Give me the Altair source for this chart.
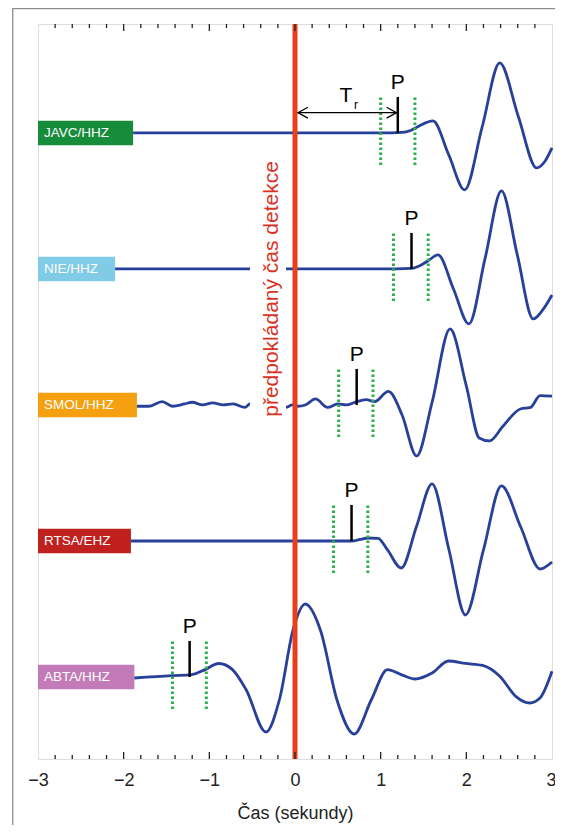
import altair as alt
import pandas as pd

# ---------------- data ----------------
STATIONS = ["JAVC/HHZ", "NIE/HHZ", "SMOL/HHZ", "RTSA/EHZ", "ABTA/HHZ"]
OFFSETS = [4, 3, 2, 1, 0]
BOX_COLORS = ["#178C3B", "#80CBE6", "#F4A00F", "#C0211E", "#C27BB8"]
BOX_END = [-1.89, -2.10, -1.845, -1.915, -1.875]
P_TIMES = [1.20, 1.36, 0.72, 0.66, -1.23]
WIN_LEFT = [1.00, 1.15, 0.51, 0.45, -1.43]
WIN_RIGHT = [1.40, 1.555, 0.91, 0.85, -1.035]

JAVC_T = [-1.89, 0.5, 1.0, 1.25, 1.35, 1.45, 1.61, 1.795, 1.98, 2.185, 2.39, 2.605, 2.82, 2.92, 3.0]
JAVC_A = [0, 0, 0, 0.5, 2.5, 7, 12, -22, -57, 6, 70, 17, -35, -28, -15]

NIE_T = [-2.10, 0.5, 1.0, 1.36, 1.45, 1.55, 1.67, 1.85, 2.03, 2.22, 2.41, 2.595, 2.78, 2.90, 3.0]
NIE_A = [0, 0, 0, 0.5, 3, 8, 14, -20, -55, 11, 78, 14, -50, -40, -26]

SMOL_T = [-1.845, -1.71, -1.55, -1.43, -1.29, -1.20, -1.08, -0.96, -0.84, -0.72, -0.585, -0.525,
          -0.40, -0.25, -0.11, -0.03, 0.03, 0.12, 0.24, 0.38, 0.50, 0.60, 0.70, 0.83, 0.93, 1.09,
          1.25, 1.42, 1.60, 1.81, 2.0, 2.15, 2.27, 2.43, 2.63, 2.75, 2.86, 3.0]
SMOL_A = [-1.3, -1.3, 3.4, -1.3, 1, 2.7, 0, 2, 0, 1, -2.4, 1,
          -1, 1, -2.4, 0, -1.3, 0, 6, -2.4, 1, 0, 2.7, 5.4, 3.4, 13.5,
          -10, -51, 2.7, 76, 19, -33, -36, -21, -4, -2.4, 9.4, 8.8]

RTSA_T = [-1.915, 0.0, 0.66, 0.76, 0.85, 0.97, 1.08, 1.24, 1.42, 1.60, 1.795, 1.99, 2.20, 2.41, 2.635, 2.86, 3.0]
RTSA_A = [0, 0, 0, 1.5, 3, 2.7, -9, -27, 15, 57, -8, -74, -9, 55, 14, -28, -21]

ABTA_T = [-1.875, -1.44, -1.205, -1.05, -0.89, -0.73, -0.57, -0.34, -0.18, -0.02, 0.12, 0.30, 0.49,
          0.69, 0.89, 1.08, 1.24, 1.40, 1.60, 1.79, 1.99, 2.19, 2.39, 2.58, 2.74, 2.86, 3.0]
ABTA_A = [-1, 1.4, 2.4, 7.4, 13.5, 7.4, -12.8, -55, -22, 48, 73, 46, -23,
          -57, -23, 7.4, 2.4, -2, 4, 16, 13.5, 11.5, 0.7, -19.6, -26, -21, 5.7]

TRACES = [(JAVC_T, JAVC_A), (NIE_T, NIE_A), (SMOL_T, SMOL_A), (RTSA_T, RTSA_A), (ABTA_T, ABTA_A)]
SPACING = 136.0  # amplitude counts per trace spacing

X_TICKS = [-3, -2, -1, 0, 1, 2, 3]
MINOR = [round(-2.8 + 0.2 * i, 1) for i in range(29)]

# ---------------- build tables ----------------
rows = []
for name, off, (ts, amps) in zip(STATIONS, OFFSETS, TRACES):
    for i, (t, a) in enumerate(zip(ts, amps, strict=True)):
        rows.append({"station": name, "t": t, "y": off + a / SPACING, "i": i})
trace_df = pd.DataFrame(rows)

box_df = pd.DataFrame({
    "station": STATIONS, "x": [-3.0] * 5, "x2": BOX_END,
    "y": [o - 0.09 for o in OFFSETS], "y2": [o + 0.09 for o in OFFSETS],
    "color": BOX_COLORS, "tx": [-2.93] * 5, "ty": OFFSETS,
})
p_df = pd.DataFrame({
    "t": P_TIMES, "y": OFFSETS, "y2": [o + 0.265 for o in OFFSETS],
    "ly": [o + 0.325 for o in OFFSETS], "label": ["P"] * 5,
})
win_df = pd.DataFrame({
    "t": WIN_LEFT + WIN_RIGHT,
    "y": [o - 0.235 for o in OFFSETS] * 2,
    "y2": [o + 0.27 for o in OFFSETS] * 2,
})

YMIN, YMAX = -0.603, 4.801
xs = alt.Scale(domain=[-3, 3], nice=False, zero=False)
ys = alt.Scale(domain=[YMIN, YMAX], nice=False, zero=False)

FONT = "Liberation Sans"

x_axis = alt.Axis(values=X_TICKS, title="Čas (sekundy)", ticks=False, domain=False, grid=False,
                  labelExpr="datum.value < 0 ? '\u2212' + (-datum.value) : '' + datum.value",
                  labelFont=FONT, labelFontSize=18, labelColor="#222", labelPadding=12.5,
                  labelFlush=False, labelOverlap=False, labelBound=False,
                  labelAlign={"condition": {"test": "datum.value >= 3", "value": "right"}, "value": "center"},
                  labelOffset={"condition": {"test": "datum.value >= 3", "value": 4}, "value": 0},
                  titleFont=FONT, titleFontSize=18, titleFontWeight="normal", titleColor="#222",
                  titlePadding=15)


def X(field):
    return alt.X(field, type="quantitative", scale=xs, axis=x_axis)


def Y(field):
    return alt.Y(field, type="quantitative", scale=ys, axis=None)


# page frame (outer box lines)
page_h = alt.Chart(pd.DataFrame({"x": [-3.295], "x2": [3.05], "y": [YMAX + 15.5 / SPACING]})).mark_rule(
    color="#8C8C8C", strokeWidth=1.3).encode(x=X("x"), x2="x2", y=Y("y"))
page_v = alt.Chart(pd.DataFrame({"x": [-3.295], "y": [YMAX + 15.5 / SPACING], "y2": [-1.09]})).mark_rule(
    color="#8C8C8C", strokeWidth=1.3).encode(x=X("x"), y=Y("y"), y2="y2")

boxes = alt.Chart(box_df).mark_rect().encode(
    x=X("x"), x2="x2", y=Y("y"), y2="y2",
    color=alt.Color("color:N", scale=None))
box_text = alt.Chart(box_df).mark_text(align="left", baseline="middle", color="white",
                                       font=FONT, fontSize=13.5).encode(
    x=X("tx"), y=Y("ty"), text="station:N")

traces = alt.Chart(trace_df).mark_line(color="#27409A", strokeWidth=2.8, interpolate="monotone").encode(
    x=X("t"), y=Y("y"), detail="station:N", order="i:Q")

white = alt.Chart(pd.DataFrame({"x": [-0.525], "x2": [-0.105], "y": [1.89], "y2": [3.82]})).mark_rect(
    color="white").encode(x=X("x"), x2="x2", y=Y("y"), y2="y2")

red = alt.Chart(pd.DataFrame({"x": [0.0]})).mark_rule(color="#E8401C", strokeWidth=5).encode(x=X("x"))

red_text = alt.Chart(pd.DataFrame({"x": [-0.268], "y": [2.853], "s": ["předpokládaný čas detekce"]})).mark_text(
    angle=270, align="center", baseline="middle", color="#D9321F", font=FONT, fontSize=21).encode(
    x=X("x"), y=Y("y"), text="s:N")

wins = alt.Chart(win_df).mark_rule(color="#2DB04A", strokeWidth=3, strokeDash=[2.5, 2.5]).encode(
    x=X("t"), y=Y("y"), y2="y2")

pticks = alt.Chart(p_df).mark_rule(color="black", strokeWidth=2.5).encode(x=X("t"), y=Y("y"), y2="y2")
plabels = alt.Chart(p_df).mark_text(baseline="alphabetic", align="center", font=FONT, fontSize=21,
                                    color="black").encode(x=X("t"), y=Y("ly"), text="label:N")

# T_r arrow
ay = 4.149
arrow_df = pd.DataFrame({
    "g": ["s", "s", "l", "l", "l", "r", "r", "r"],
    "x": [0.035, 1.185, 0.15, 0.035, 0.15, 1.07, 1.185, 1.07],
    "y": [ay, ay, ay + 0.04, ay, ay - 0.04, ay + 0.04, ay, ay - 0.04],
    "i": [0, 1, 0, 1, 2, 0, 1, 2],
})
arrow = alt.Chart(arrow_df).mark_line(color="black", strokeWidth=1.3).encode(
    x=X("x"), y=Y("y"), detail="g:N", order="i:Q")
tr_T = alt.Chart(pd.DataFrame({"x": [0.595], "y": [4.272], "s": ["T"]})).mark_text(
    font=FONT, fontSize=21, baseline="middle", align="center").encode(x=X("x"), y=Y("y"), text="s:N")
tr_r = alt.Chart(pd.DataFrame({"x": [0.712], "y": [4.205], "s": ["r"]})).mark_text(
    font=FONT, fontSize=12, baseline="middle", align="center").encode(x=X("x"), y=Y("y"), text="s:N")

# inward ticks on top and bottom frame
tick_rows = []
for v in MINOR:
    major = abs(v - round(v)) < 1e-9
    L = (7 if major else 4) / SPACING
    tick_rows.append({"x": v, "y": YMAX, "y2": YMAX - L})
    tick_rows.append({"x": v, "y": YMIN, "y2": YMIN + L})
ticks = alt.Chart(pd.DataFrame(tick_rows)).mark_rule(color="#222", strokeWidth=1.3).encode(
    x=X("x"), y=Y("y"), y2="y2")

chart = alt.layer(
    page_h, page_v, boxes, box_text, traces, white, red, red_text, wins, pticks, plabels,
    arrow, tr_T, tr_r, ticks
).properties(
    width=514, height=735,
    padding={"left": 30, "top": 16, "right": 3, "bottom": 66},
    autosize=alt.AutoSizeParams(type="none"),
).configure_view(stroke="#222", strokeWidth=1.6).configure(background="white")

chart.save("out.html", embed_options={"renderer": "svg", "actions": False})
